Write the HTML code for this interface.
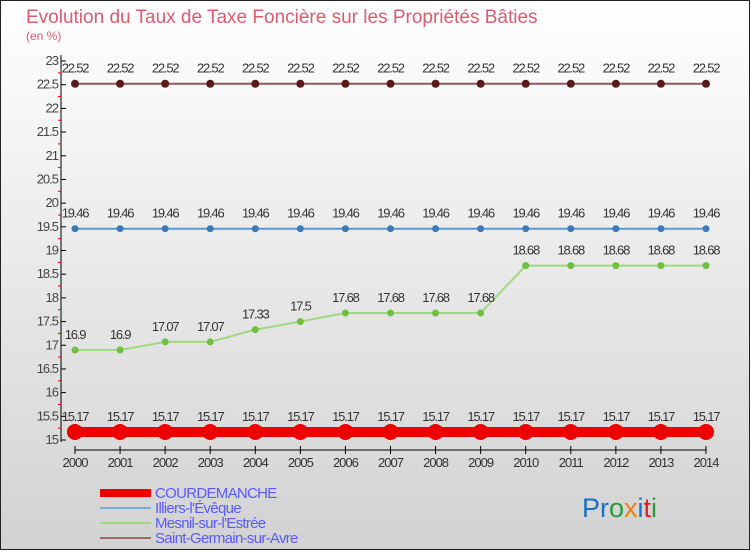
<!DOCTYPE html>
<html><head><meta charset="utf-8"><style>
body{margin:0;width:750px;height:550px;overflow:hidden;font-family:"Liberation Sans",sans-serif}
</style></head><body>
<svg width="750" height="550" xmlns="http://www.w3.org/2000/svg">
<defs><linearGradient id="bg" x1="0" y1="0" x2="0" y2="1"><stop offset="0" stop-color="#ffffff"/><stop offset="1" stop-color="#d2d2d2"/></linearGradient></defs>
<rect x="0.5" y="0.5" width="749" height="549" fill="url(#bg)" stroke="#222"/>
<text x="26" y="23" font-size="19" fill="#e05a6e">Evolution du Taux de Taxe Foncière sur les Propriétés Bâties</text>
<text x="26" y="40" font-size="12" fill="#e05a6e">(en %)</text>
<g id="axes"></g>
<g id="series"></g>
<g id="legend"></g>
<text x="582" y="517" font-size="27"><tspan fill="#1a6fc9">Pr</tspan><tspan fill="#2a9a3a">o</tspan><tspan fill="#f07d10">x</tspan><tspan fill="#1a6fc9">i</tspan><tspan fill="#e02020">t</tspan><tspan fill="#2a9a3a">i</tspan></text>
</svg>
<script>
const years=[2000,2001,2002,2003,2004,2005,2006,2007,2008,2009,2010,2011,2012,2013,2014];
const courdemanche=[15.17,15.17,15.17,15.17,15.17,15.17,15.17,15.17,15.17,15.17,15.17,15.17,15.17,15.17,15.17];
const illiers=[19.46,19.46,19.46,19.46,19.46,19.46,19.46,19.46,19.46,19.46,19.46,19.46,19.46,19.46,19.46];
const mesnil=[16.9,16.9,17.07,17.07,17.33,17.5,17.68,17.68,17.68,17.68,18.68,18.68,18.68,18.68,18.68];
const stgermain=[22.52,22.52,22.52,22.52,22.52,22.52,22.52,22.52,22.52,22.52,22.52,22.52,22.52,22.52,22.52];
const yTicks=[15,15.5,16,16.5,17,17.5,18,18.5,19,19.5,20,20.5,21,21.5,22,22.5,23];
const seriesNames=["COURDEMANCHE","Illiers-l'Évêque","Mesnil-sur-l'Estrée","Saint-Germain-sur-Avre"];
const NS="http://www.w3.org/2000/svg";
const xS=i=>75+i*(706-75)/(years.length-1);
const yS=v=>440-(v-15)*(440-61)/8;
function mk(p,t,a){const e=document.createElementNS(NS,t);for(const k in a)e.setAttribute(k,a[k]);p.appendChild(e);return e;}
const ax=document.getElementById('axes');
let l=mk(ax,'line',{x1:61,y1:55,x2:61,y2:442,stroke:'#000'});


yTicks.forEach((v,i)=>{
  const y=yS(v);
  const t=mk(ax,'line',{x1:61,y1:y,x2:66,y2:y,stroke:'#000'});
  
  
  const tx=mk(ax,'text',{x:58,y:y+4,'font-size':13,'text-anchor':'end',fill:'#444','letter-spacing':'-1'});
  tx.textContent=String(v);
  
  
  if(i<yTicks.length-1){const m=mk(ax,'line',{x1:58,y1:yS(v+0.25),x2:61,y2:yS(v+0.25),stroke:'#e00'});
  
  }
});
l=mk(ax,'line',{x1:75,y1:450,x2:706,y2:450,stroke:'#000'});


years.forEach((yr,i)=>{
  const x=xS(i);
  const t=mk(ax,'line',{x1:x,y1:446,x2:x,y2:454,stroke:'#000'});
  
  
  const tx=mk(ax,'text',{x:x,y:467,'font-size':13,'text-anchor':'middle',fill:'#333','letter-spacing':'-1'});
  tx.textContent=yr;
  
  
});
const sg=document.getElementById('series');
const cfg=[[stgermain,'#8c5a5a','#5a1a1a',2,4,'saint-germain'],[illiers,'#5a9ad0','#3a7ab8',2,3.5,'illiers'],[mesnil,'#a0d880','#70c040',2,3.5,'mesnil'],[courdemanche,'#ee0000','#ee0000',10,8,'courdemanche']];
cfg.forEach(([d,lc,pc,w,r,n])=>{
  const pl=mk(sg,'polyline',{points:d.map((v,i)=>xS(i)+','+yS(v)).join(' '),fill:'none',stroke:lc,'stroke-width':w});
  
  
  d.forEach((v,i)=>{
    const c=mk(sg,'circle',{cx:xS(i),cy:yS(v),r:r,fill:pc});
    
    
    const tx=mk(sg,'text',{x:xS(i),y:yS(v)-11,'font-size':13,'text-anchor':'middle',fill:'#333','letter-spacing':'-1.2'});
    tx.textContent=String(v);
    
    
  });
});
const lg=document.getElementById('legend');
const lc=[['#ee0000',8],['#7aaed0',2],['#a0d880',2],['#9a6a6a',2]];
seriesNames.forEach((nm,i)=>{
  const y=493+i*15;
  const s=mk(lg,'line',{x1:100,y1:y,x2:151,y2:y,stroke:lc[i][0],'stroke-width':lc[i][1]});
  
  
  const tx=mk(lg,'text',{x:155,y:y+5,'font-size':15,fill:'#5a5aff','letter-spacing':'-0.7'});
  tx.textContent=nm;
  
  
});
</script>
</body></html>
